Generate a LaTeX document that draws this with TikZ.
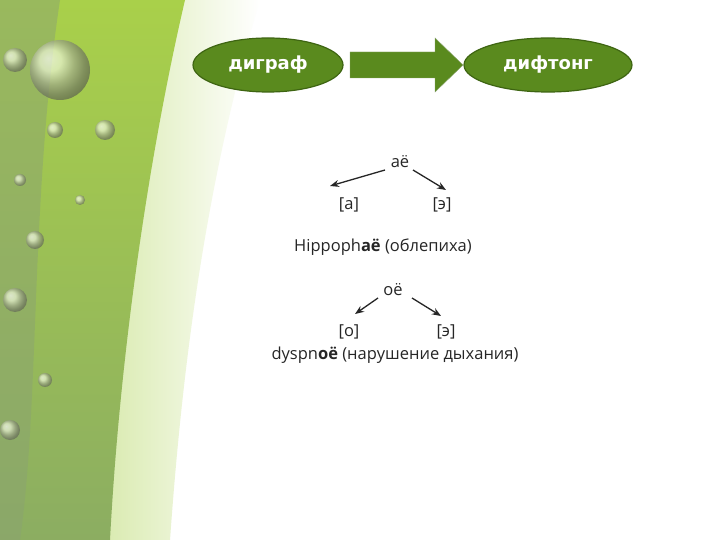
\documentclass[tikz,border=0pt]{standalone}
\usepackage{fontspec}
\setmainfont{Open Sans}
\newfontfamily\vfont{DejaVu Sans}
\usetikzlibrary{shapes.geometric,arrows.meta}
\definecolor{leaf}{HTML}{5A8A1E}
\definecolor{leafd}{HTML}{3E6512}
\definecolor{leafl}{HTML}{A9D04A}
\tikzset{
 oval/.style={ellipse,fill=leaf,draw=leafd,line width=1.2pt,text=white,font=\vfont\bfseries\fontsize{18}{18}\selectfont,minimum height=54pt},
 lbl/.style={font=\fontsize{16.5}{18}\selectfont,text=black!85,inner sep=1pt},
 arr/.style={-{Stealth[length=9pt,width=7pt]},line width=1.3pt,black!85}
}
\begin{document}
\begin{tikzpicture}[x=1pt,y=-1pt]
\useasboundingbox (0,0) rectangle (720,540);
\fill[white] (0,0) rectangle (720,540);
\shade[left color=leafl!45,right color=white] (100,0) -- (260,0) .. controls (200,200) and (180,400) .. (170,540) -- (100,540) -- cycle;
\shade[top color=leafl,bottom color=leaf!70] (0,0) -- (185,0) .. controls (150,150) and (120,350) .. (110,540) -- (0,540) -- cycle;
\fill[leafd!60,opacity=0.5] (0,0) -- (60,0) .. controls (30,200) and (40,400) .. (20,540) -- (0,540) -- cycle;
\foreach \x/\y/\r in {60/70/30,15/60/12,105/130/10,55/130/8,20/180/6,80/200/5,35/240/9,15/300/12,45/380/7,10/430/10}
  \shade[ball color=white!70!leafl,opacity=0.7] (\x,\y) circle (\r);
\node[oval,minimum width=150pt] (a) at (268,65) {диграф};
\node[oval,minimum width=168pt] (b) at (548,65) {дифтонг};
\fill[leaf,draw=leafd!60] (350,52) -- (435,52) -- (435,38) -- (463,65) -- (435,92) -- (435,78) -- (350,78) -- cycle;
\node[lbl] (ae) at (400,162) {аё};
\node[lbl] (a1) at (349,205) {[а]};
\node[lbl] (e1) at (442,205) {[э]};
\node[lbl] (h) at (383,247) {Hippoph\textbf{aё} (облепиха)};
\draw[arr] (385,170) -- (330,186);
\draw[arr] (413,170) -- (446,190);
\node[lbl] (oe) at (393,290) {оё};
\node[lbl] (o1) at (349,332) {[о]};
\node[lbl] (e2) at (446,332) {[э]};
\node[lbl] (d) at (395,355) {dyspn\textbf{oё} (нарушение дыхания)};
\draw[arr] (378,298) -- (355,314);
\draw[arr] (412,298) -- (441,316);
\end{tikzpicture}
\end{document}
